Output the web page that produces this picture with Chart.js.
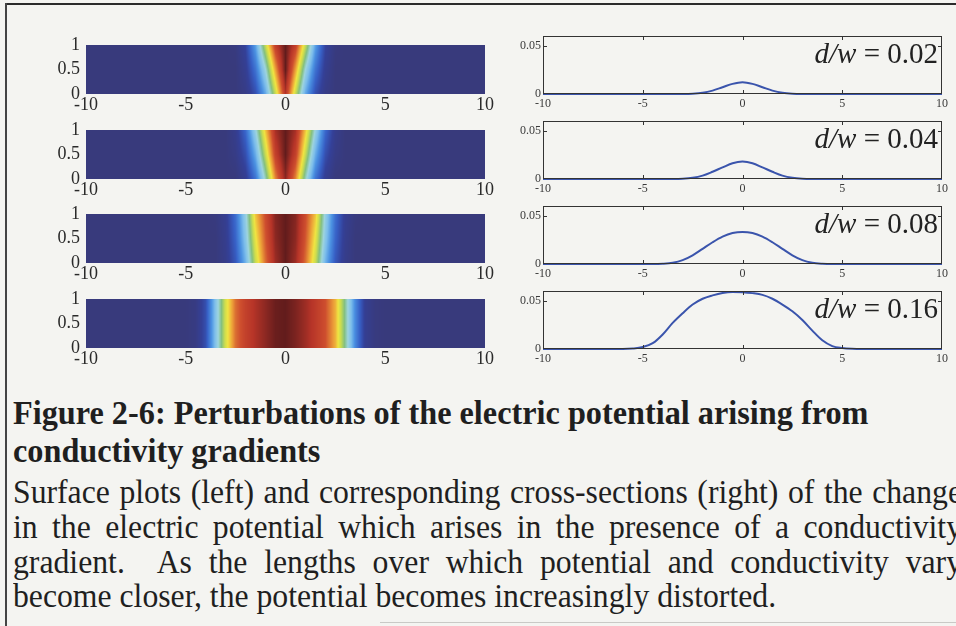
<!DOCTYPE html>
<html>
<head>
<meta charset="utf-8">
<title>Figure 2-6</title>
<script src="https://cdn.jsdelivr.net/npm/chart.js@4.4.1/dist/chart.umd.min.js"></script>
<style>
  html, body { margin: 0; padding: 0; }
  body { width: 956px; height: 626px; position: relative; overflow: hidden; background: #f4f4f1; }
  canvas { position: absolute; }
  .rule { position: absolute; background: #2b2b2b; }
  .cap { position: absolute; left: 13px; white-space: nowrap; color: #1f1f1f;
         font-family: "Liberation Serif", "Times New Roman", serif; transform-origin: 0 0; }
  .bold { font-weight: bold; font-size: 34px; line-height: 34px; }
  .body { font-size: 33px; line-height: 33px; }
  .just { text-align: justify; text-align-last: justify; white-space: normal; }
</style>
</head>
<body>
<div class="rule" style="left:5px; top:3px; width:951px; height:2px;"></div>
<div class="rule" style="left:5px; top:3px; width:2px; height:623px; background:#444;"></div>
<div class="rule" style="left:380px; top:622px; width:576px; height:1px; background:#c9c9c6;"></div>

<div class="cap bold" id="b1" style="top:396px;">Figure 2-6: Perturbations of the electric potential arising from</div>
<div class="cap bold" id="b2" style="top:434px;">conductivity gradients</div>
<div class="cap body just" id="t1" style="top:476px;">Surface plots (left) and corresponding cross-sections (right) of the change</div>
<div class="cap body just" id="t2" style="top:511px;">in the electric potential which arises in the presence of a conductivity</div>
<div class="cap body just" id="t3" style="top:546px;">gradient.&nbsp; As the lengths over which potential and conductivity vary</div>
<div class="cap body" id="t4" style="top:580px;">become closer, the potential becomes increasingly distorted.</div>

<script>
// ---------------------------------------------------------------
// Data
// ---------------------------------------------------------------
const ratioLabels = ['0.02', '0.04', '0.08', '0.16'];
const xTickValues = [-10, -5, 0, 5, 10];
const heatTickValues = [0, 0.5, 1];
const cutTickValues = [0, 0.05];

// Surface plots: normalised potential change sampled along x at three depths
const heatX = [-5, -4.5, -4, -3.5, -3, -2.5, -2, -1.5, -1, -0.5, 0, 0.5, 1, 1.5, 2, 2.5, 3, 3.5, 4, 4.5, 5];
const heatY = [0, 0.5, 1];

const heatD002 = [
  [0, 0, 0, 0, 0, 0, 0.03, 0.12, 0.30, 0.58, 0.90, 0.58, 0.30, 0.12, 0.03, 0, 0, 0, 0, 0, 0],
  [0, 0, 0, 0, 0, 0, 0.06, 0.20, 0.42, 0.72, 1.00, 0.72, 0.42, 0.20, 0.06, 0, 0, 0, 0, 0, 0],
  [0, 0, 0, 0, 0, 0.01, 0.09, 0.29, 0.58, 0.87, 1.00, 0.87, 0.58, 0.29, 0.09, 0.01, 0, 0, 0, 0, 0]
];
const heatD004 = [
  [0, 0, 0, 0, 0, 0, 0.06, 0.20, 0.45, 0.75, 0.95, 0.75, 0.45, 0.20, 0.06, 0, 0, 0, 0, 0, 0],
  [0, 0, 0, 0, 0, 0.03, 0.12, 0.31, 0.58, 0.86, 1.00, 0.86, 0.58, 0.31, 0.12, 0.03, 0, 0, 0, 0, 0],
  [0, 0, 0, 0, 0, 0.05, 0.18, 0.41, 0.68, 0.92, 1.00, 0.92, 0.68, 0.41, 0.18, 0.05, 0, 0, 0, 0, 0]
];
const heatD008 = [
  [0, 0, 0, 0, 0.04, 0.14, 0.32, 0.58, 0.78, 0.93, 1.00, 0.93, 0.78, 0.58, 0.32, 0.14, 0.04, 0, 0, 0, 0],
  [0, 0, 0, 0, 0.05, 0.17, 0.37, 0.63, 0.81, 0.95, 1.00, 0.95, 0.81, 0.63, 0.37, 0.17, 0.05, 0, 0, 0, 0],
  [0, 0, 0, 0.01, 0.06, 0.19, 0.40, 0.68, 0.83, 0.96, 1.00, 0.96, 0.83, 0.68, 0.40, 0.19, 0.06, 0.01, 0, 0, 0]
];
const heatD016 = [
  [0, 0.02, 0.12, 0.36, 0.60, 0.78, 0.86, 0.91, 0.95, 0.99, 1.00, 0.97, 0.93, 0.88, 0.82, 0.70, 0.48, 0.24, 0.06, 0.01, 0],
  [0, 0.02, 0.12, 0.36, 0.60, 0.78, 0.86, 0.91, 0.95, 0.99, 1.00, 0.97, 0.93, 0.88, 0.82, 0.70, 0.48, 0.24, 0.06, 0.01, 0],
  [0, 0.02, 0.12, 0.36, 0.60, 0.78, 0.86, 0.91, 0.95, 0.99, 1.00, 0.97, 0.93, 0.88, 0.82, 0.70, 0.48, 0.24, 0.06, 0.01, 0]
];

// Cross-sections: potential change along x
const cutX002 = [-10, -3, -2.5, -2, -1.5, -1, -0.5, 0, 0.5, 1, 1.5, 2, 2.5, 3, 10];
const cutY002 = [0, 0, 0.0002, 0.0012, 0.0035, 0.0070, 0.0105, 0.0122, 0.0105, 0.0070, 0.0035, 0.0012, 0.0002, 0, 0];

const cutX004 = [-10, -3.5, -3, -2.5, -2, -1.5, -1, -0.5, 0, 0.5, 1, 1.5, 2, 2.5, 3, 3.5, 10];
const cutY004 = [0, 0, 0.0002, 0.0012, 0.0035, 0.0075, 0.0120, 0.0163, 0.0180, 0.0163, 0.0120, 0.0075, 0.0035, 0.0012, 0.0002, 0, 0];

const cutX008 = [-10, -4.5, -4, -3.5, -3, -2.5, -2, -1.5, -1, -0.5, 0, 0.5, 1, 1.5, 2, 2.5, 3, 3.5, 4, 4.5, 10];
const cutY008 = [0, 0, 0.0003, 0.0013, 0.0040, 0.0090, 0.0157, 0.0225, 0.0283, 0.0320, 0.0332, 0.0320, 0.0283, 0.0225, 0.0157, 0.0090, 0.0040, 0.0013, 0.0003, 0, 0];

const cutX016 = [-10, -6, -5.5, -5, -4.5, -4, -3.5, -3, -2.5, -2, -1.5, -1, -0.5, 0, 0.5, 1, 1.5, 2, 2.5, 3, 3.5, 4, 4.5, 5, 5.5, 6, 10];
const cutY016 = [0, 0, 0.0005, 0.0020, 0.0060, 0.0150, 0.0270, 0.0370, 0.0460, 0.0520, 0.0555, 0.0580, 0.0590, 0.0588, 0.0578, 0.0560, 0.0520, 0.0460, 0.0390, 0.0300, 0.0190, 0.0090, 0.0030, 0.0010, 0.0002, 0, 0];

const heatFields = [heatD002, heatD004, heatD008, heatD016];
const cutXs = [cutX002, cutX004, cutX008, cutX016];
const cutYs = [cutY002, cutY004, cutY008, cutY016];

// ---------------------------------------------------------------
// Layout and style
// ---------------------------------------------------------------
const heatTop = [40, 125, 209, 294];
const cutTop = [36, 121, 206, 291];
const HEAT = { canvasLeft: 30, areaLeft: 86, areaRight: 485, areaH: 54, padTop: 12, axisH: 24 };
const CUT = { canvasLeft: 505, areaLeft: 543, areaRight: 942, areaH: 58, padTop: 10, axisH: 20 };
const SERIF = '"Liberation Serif", "Times New Roman", serif';
const INK = '#2a2a2a';
const LINE_BLUE = 'rgb(58, 84, 172)';

// jet-style colour ramp as it prints on paper
const ramp = [
  [0.00, [56, 58, 124]],
  [0.08, [52, 64, 152]],
  [0.16, [55, 96, 198]],
  [0.26, [76, 146, 226]],
  [0.34, [125, 190, 235]],
  [0.42, [158, 212, 222]],
  [0.50, [132, 192, 128]],
  [0.58, [202, 220, 80]],
  [0.64, [240, 228, 66]],
  [0.72, [236, 160, 56]],
  [0.82, [206, 78, 46]],
  [0.90, [182, 52, 40]],
  [1.00, [98, 28, 28]]
];

function rampColour(v) {
  v = Math.max(0, Math.min(1, v));
  for (let i = 1; i < ramp.length; i++) {
    if (v <= ramp[i][0]) {
      const [a0, c0] = ramp[i - 1], [a1, c1] = ramp[i];
      const t = (v - a0) / (a1 - a0);
      return [0, 1, 2].map(k => c0[k] + (c1[k] - c0[k]) * t);
    }
  }
  return ramp[ramp.length - 1][1];
}

function lerpRow(xs, row, xv) {
  if (xv <= xs[0]) return row[0];
  if (xv >= xs[xs.length - 1]) return row[row.length - 1];
  let i = 0;
  while (xs[i + 1] < xv) i++;
  const t = (xv - xs[i]) / (xs[i + 1] - xs[i]);
  return row[i] + (row[i + 1] - row[i]) * t;
}

function fieldAt(field, xv, yv) {
  if (yv <= heatY[0]) return lerpRow(heatX, field[0], xv);
  if (yv >= heatY[heatY.length - 1]) return lerpRow(heatX, field[field.length - 1], xv);
  let j = 0;
  while (heatY[j + 1] < yv) j++;
  const t = (yv - heatY[j]) / (heatY[j + 1] - heatY[j]);
  const a = lerpRow(heatX, field[j], xv), b = lerpRow(heatX, field[j + 1], xv);
  return a + (b - a) * t;
}

// Paints the sampled field with interpolated shading, mapped through the chart's scales
const heatLayer = {
  id: 'heatLayer',
  beforeDatasetsDraw(chart, args, opts) {
    const field = opts.field;
    if (!field) return;
    const { ctx, chartArea: a, scales: { x, y } } = chart;
    const w = Math.round(a.width), h = Math.round(a.height);
    const off = document.createElement('canvas');
    off.width = w; off.height = h;
    const octx = off.getContext('2d');
    const img = octx.createImageData(w, h);
    const xv = [];
    for (let px = 0; px < w; px++) xv.push(x.getValueForPixel(a.left + px + 0.5));
    for (let py = 0; py < h; py++) {
      const yv = y.getValueForPixel(a.top + py + 0.5);
      for (let px = 0; px < w; px++) {
        const c = rampColour(fieldAt(field, xv[px], yv));
        const k = (py * w + px) * 4;
        img.data[k] = c[0]; img.data[k + 1] = c[1]; img.data[k + 2] = c[2]; img.data[k + 3] = 255;
      }
    }
    octx.putImageData(img, 0, 0);
    ctx.drawImage(off, a.left, a.top);
  }
};

// Box around the axes with inward tick marks on all four sides
const boxFrame = {
  id: 'boxFrame',
  afterDatasetsDraw(chart, args, opts) {
    if (!opts.enabled) return;
    const { ctx, chartArea: a, scales: { x, y } } = chart;
    const L = opts.tickLength;
    ctx.save();
    ctx.strokeStyle = opts.color;
    ctx.lineWidth = 1;
    ctx.strokeRect(a.left + 0.5, a.top + 0.5, a.width - 1, a.height - 1);
    ctx.beginPath();
    x.ticks.forEach(t => {
      const px = Math.round(x.getPixelForValue(t.value)) + 0.5;
      if (px <= a.left + 2 || px >= a.right - 2) return;
      ctx.moveTo(px, a.top); ctx.lineTo(px, a.top + L);
      ctx.moveTo(px, a.bottom); ctx.lineTo(px, a.bottom - L);
    });
    y.ticks.forEach(t => {
      const py = Math.round(y.getPixelForValue(t.value)) + 0.5;
      if (py <= a.top + 2 || py >= a.bottom - 2) return;
      ctx.moveTo(a.left, py); ctx.lineTo(a.left + L, py);
      ctx.moveTo(a.right, py); ctx.lineTo(a.right - L, py);
    });
    ctx.stroke();
    ctx.restore();
  }
};

// "d/w = value" annotation in the top-right corner of each cross-section
const ratioNote = {
  id: 'ratioNote',
  afterDraw(chart, args, opts) {
    if (!opts.value) return;
    const { ctx, chartArea: a } = chart;
    const size = opts.size;
    const right = ' = ' + opts.value;
    const xEnd = a.right - 4, base = a.top + opts.baseline;
    ctx.save();
    ctx.fillStyle = '#222';
    ctx.textBaseline = 'alphabetic';
    ctx.textAlign = 'right';
    ctx.font = `${size}px ${SERIF}`;
    const rw = ctx.measureText(right).width;
    ctx.fillText(right, xEnd, base);
    ctx.font = `italic ${size}px ${SERIF}`;
    ctx.fillText('d/w', xEnd - rw, base);
    ctx.restore();
  }
};

function addCanvas(left, top, w, h) {
  const c = document.createElement('canvas');
  c.width = w; c.height = h;
  c.style.left = left + 'px'; c.style.top = top + 'px';
  c.style.width = w + 'px'; c.style.height = h + 'px';
  document.body.appendChild(c);
  return c;
}

function fixedTicks(values) {
  return scale => { scale.ticks = values.map(v => ({ value: v })); };
}
const plainLabel = v => String(v);

const baseOptions = {
  responsive: false,
  animation: false,
  devicePixelRatio: 1,
  events: []
};

// Surface plots
heatFields.forEach((field, i) => {
  const top = heatTop[i] - HEAT.padTop;
  const w = 510 - HEAT.canvasLeft;
  const h = HEAT.padTop + HEAT.areaH + HEAT.axisH;
  const cv = addCanvas(HEAT.canvasLeft, top, w, h);
  new Chart(cv, {
    type: 'scatter',
    data: { datasets: [{ data: [] }] },
    options: Object.assign({}, baseOptions, {
      layout: { padding: { top: HEAT.padTop, right: 510 - HEAT.areaRight, left: 0, bottom: 0 } },
      scales: {
        x: {
          type: 'linear', min: -10, max: 10,
          afterBuildTicks: fixedTicks(xTickValues),
          afterFit: s => { s.height = HEAT.axisH; },
          grid: { display: false, drawTicks: false }, border: { display: false },
          ticks: { color: INK, font: { family: SERIF, size: 18 }, padding: 0, maxRotation: 0, autoSkip: false, callback: plainLabel }
        },
        y: {
          type: 'linear', min: 0, max: 1,
          afterBuildTicks: fixedTicks(heatTickValues),
          afterFit: s => { s.width = HEAT.areaLeft - HEAT.canvasLeft; },
          grid: { display: false, drawTicks: false }, border: { display: false },
          ticks: { color: INK, font: { family: SERIF, size: 18 }, padding: 6, autoSkip: false, callback: plainLabel }
        }
      },
      plugins: { legend: { display: false }, tooltip: { enabled: false }, heatLayer: { field } }
    }),
    plugins: [heatLayer]
  });
});

// Cross-sections
cutXs.forEach((xs, i) => {
  const ys = cutYs[i];
  const top = cutTop[i] - CUT.padTop;
  const w = 956 - CUT.canvasLeft;
  const h = CUT.padTop + CUT.areaH + CUT.axisH;
  const cv = addCanvas(CUT.canvasLeft, top, w, h);
  new Chart(cv, {
    type: 'line',
    data: {
      datasets: [{
        data: xs.map((x, k) => ({ x, y: ys[k] })),
        borderColor: LINE_BLUE, borderWidth: 2, pointRadius: 0,
        cubicInterpolationMode: 'monotone', fill: false, clip: false
      }]
    },
    options: Object.assign({}, baseOptions, {
      layout: { padding: { top: CUT.padTop, right: 956 - CUT.areaRight, left: 0, bottom: 0 } },
      scales: {
        x: {
          type: 'linear', min: -10, max: 10,
          afterBuildTicks: fixedTicks(xTickValues),
          afterFit: s => { s.height = CUT.axisH; },
          grid: { display: false, drawTicks: false }, border: { display: false },
          ticks: { color: '#3a3a3a', font: { family: SERIF, size: 12 }, padding: 3, maxRotation: 0, autoSkip: false, callback: plainLabel }
        },
        y: {
          type: 'linear', min: 0, max: 0.06,
          afterBuildTicks: fixedTicks(cutTickValues),
          afterFit: s => { s.width = CUT.areaLeft - CUT.canvasLeft; },
          grid: { display: false, drawTicks: false }, border: { display: false },
          ticks: { color: '#3a3a3a', font: { family: SERIF, size: 12 }, padding: 2, autoSkip: false, callback: plainLabel }
        }
      },
      plugins: {
        legend: { display: false }, tooltip: { enabled: false },
        boxFrame: { enabled: true, color: '#333', tickLength: 4 },
        ratioNote: { value: ratioLabels[i], size: 29, baseline: 27 }
      }
    }),
    plugins: [boxFrame, ratioNote]
  });
});

// Caption: set each line to its printed measure
function fitCaption() {
  const b1 = document.getElementById('b1');
  b1.style.transform = 'none';
  const kb = 855 / b1.offsetWidth;
  ['b1', 'b2'].forEach(id => { document.getElementById(id).style.transform = `scaleX(${kb})`; });
  const t4 = document.getElementById('t4');
  t4.style.transform = 'none';
  const kt = 763 / t4.offsetWidth;
  t4.style.transform = `scaleX(${kt})`;
  ['t1', 't2', 't3'].forEach(id => {
    const el = document.getElementById(id);
    el.style.width = (949 / kt) + 'px';
    el.style.transform = `scaleX(${kt})`;
  });
}
fitCaption();
if (document.fonts && document.fonts.ready) document.fonts.ready.then(fitCaption);
</script>
</body>
</html>
